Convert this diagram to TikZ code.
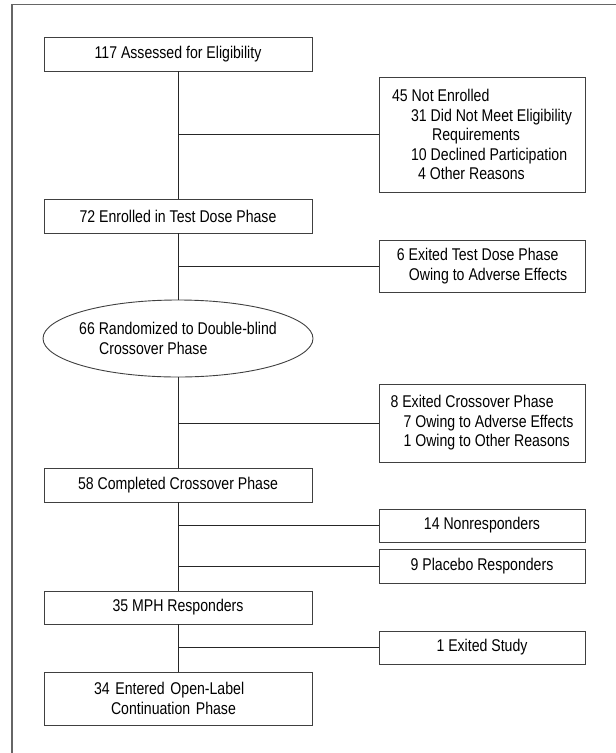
\documentclass[tikz,border=0pt]{standalone}
\usepackage{fontspec}
\setmainfont[FakeStretch=0.83]{Liberation Sans}
\usetikzlibrary{shapes.geometric}
\tikzset{mainbox/.style = {draw=black!75, line width=0.9pt, rectangle, minimum width=268pt, minimum height=34pt, inner sep=0pt, align=center}}
\tikzset{sidebox/.style = {draw=black!75, line width=0.9pt, rectangle, minimum width=206pt, minimum height=33pt, inner sep=0pt, align=left}}
\tikzset{oval/.style = {draw=black!75, line width=0.9pt, ellipse, minimum width=270pt, minimum height=77pt, inner xsep=-10pt, inner ysep=0pt, align=left}}
\tikzset{link/.style = {draw=black!85, line width=0.8pt}}

\begin{document}
\begin{tikzpicture}[x=1pt, y=-1pt, font=\fontsize{17}{19.5}\selectfont]
\useasboundingbox (0,0) rectangle (616,753);
\draw[black!60, line width=1.2pt] (12,753) -- (12,4.5) -- (616,4.5);

\node[mainbox] (assess) at (178,54) {117 Assessed for Eligibility};
\node[sidebox, minimum height=115pt] (notenr) at (482,134.5) {45 Not Enrolled\\
  \hspace*{19pt}31 Did Not Meet Eligibility\\
  \hspace*{40pt}Requirements\\
  \hspace*{19pt}10 Declined Participation\\
  \hspace*{26pt}4 Other Reasons};
\node[mainbox] (enrolled) at (178,216) {72 Enrolled in Test Dose Phase};
\node[sidebox, minimum height=52pt] (exitdose) at (482,266) {6 Exited Test Dose Phase\\
  \hspace*{12pt}Owing to Adverse Effects};
\node[oval] (random) at (178,338.5) {66 Randomized to Double-blind\\
  \hspace*{20pt}Crossover Phase};
\node[sidebox, minimum height=78pt] (exitcross) at (482,423) {8 Exited Crossover Phase\\
  \hspace*{13pt}7 Owing to Adverse Effects\\
  \hspace*{13pt}1 Owing to Other Reasons};
\node[mainbox] (completed) at (178,485) {58 Completed Crossover Phase};
\node[sidebox, align=center] (nonresp) at (482,525.5) {14 Nonresponders};
\node[sidebox, align=center, minimum height=34pt] (placebo) at (482,566) {9 Placebo Responders};
\node[mainbox, minimum height=33pt] (mph) at (178,607.5) {35 MPH Responders};
\node[sidebox, align=center] (exitstudy) at (482,647.5) {1 Exited Study};
\node[mainbox, minimum height=53pt, text width=168pt, inner xsep=50pt, align=left] (entered) at (178,698.5) {34 Entered Open-Label\\
  \hspace*{17pt}Continuation Phase};

\path [link] (assess) edge (enrolled);
\path [link] (assess |- notenr) edge (notenr);
\path [link] (enrolled) edge (random);
\path [link] (enrolled |- exitdose) edge (exitdose);
\path [link] (random) edge (completed);
\path [link] (random |- exitcross) edge (exitcross);
\path [link] (completed) edge (mph);
\path [link] (completed |- nonresp) edge (nonresp);
\path [link] (completed |- placebo) edge (placebo);
\path [link] (mph) edge (entered);
\path [link] (mph |- exitstudy) edge (exitstudy);
\end{tikzpicture}
\end{document}
